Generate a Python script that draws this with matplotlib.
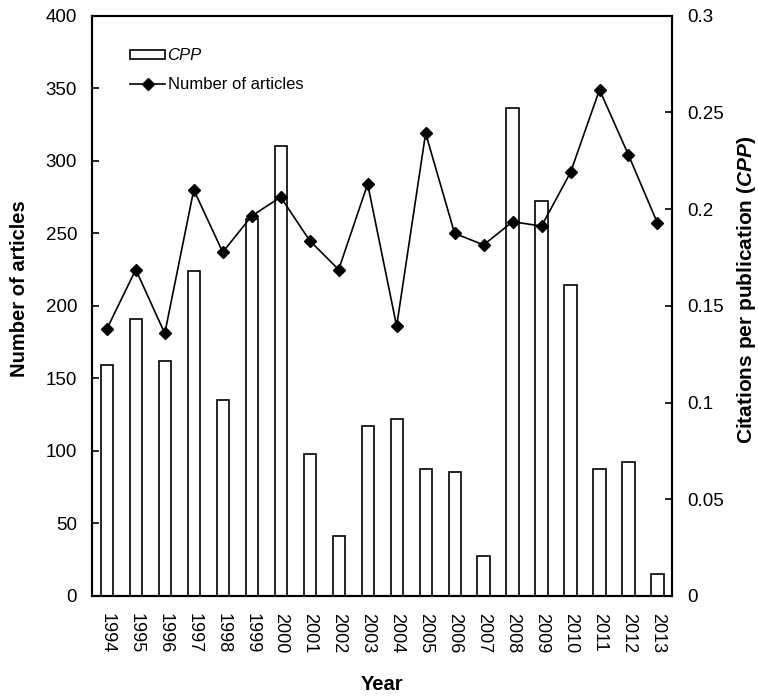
import matplotlib
matplotlib.use('Agg')
import matplotlib.pyplot as plt
from matplotlib.patches import Patch
from matplotlib.lines import Line2D
import numpy as np

plt.rcParams['font.family'] = ['Liberation Sans', 'DejaVu Sans']
plt.rcParams['mathtext.fontset'] = 'custom'
plt.rcParams['mathtext.rm'] = 'Liberation Sans'
plt.rcParams['mathtext.it'] = 'Liberation Sans:italic'
plt.rcParams['mathtext.bf'] = 'Liberation Sans:bold'
plt.rcParams['mathtext.bfit'] = 'Liberation Sans:bold:italic'

years = [str(y) for y in range(1994, 2014)]
n_articles = [184, 225, 181, 280, 237, 262, 275, 245, 225, 284,
              186, 319, 250, 242, 258, 255, 292, 349, 304, 257]
cpp = [0.1195, 0.1431, 0.1216, 0.1678, 0.1012, 0.1949, 0.2329, 0.0734, 0.0310, 0.0879,
       0.0914, 0.0659, 0.0640, 0.0205, 0.2521, 0.2040, 0.1610, 0.0659, 0.0692, 0.0115]

x = np.arange(len(years))

fig = plt.figure(figsize=(7.58, 6.96), dpi=100)
ax = fig.add_axes([0.1218, 0.1437, 0.7647, 0.8337])
ax2 = ax.twinx()

# bars on right axis, line on left axis drawn on top
ax2.bar(x, cpp, width=0.42, color='white', edgecolor='black', linewidth=1.2)
ax.plot(x, n_articles, color='black', linewidth=1.2, marker='D', markersize=6.5)
ax.set_zorder(ax2.get_zorder() + 1)
ax.patch.set_visible(False)

ax.set_xlim(-0.5, len(years) - 0.5)
ax.set_ylim(0, 400)
ax2.set_ylim(0, 0.3)
ax.set_yticks(np.arange(0, 401, 50))
ax2.set_yticks([0, 0.05, 0.1, 0.15, 0.2, 0.25, 0.3])
ax2.set_yticklabels(['0', '0.05', '0.1', '0.15', '0.2', '0.25', '0.3'])

ax.set_xticks(x)
ax.set_xticklabels(years, rotation=-90)
ax.tick_params(axis='x', length=0, pad=12, labelsize=13)
ax.tick_params(axis='y', direction='in', length=5, width=1.2, labelsize=13.5, pad=11)
ax2.tick_params(axis='y', direction='in', length=5, width=1.2, labelsize=13.5, pad=11)

for a in (ax, ax2):
    for s in a.spines.values():
        s.set_linewidth(1.5)

ax.set_xlabel('Year', fontsize=14.5, fontweight='bold', va='center')
ax.xaxis.set_label_coords(0.5, -0.152)
ax.set_ylabel('Number of articles', fontsize=14.5, fontweight='bold',
              rotation=90, va='center')
ax.yaxis.set_label_coords(-0.126, 0.529)
ax2.set_ylabel(r'Citations per publication ($\mathbfit{CPP}$)', fontsize=15,
               fontweight='bold', rotation=90, va='center')
ax2.yaxis.set_label_coords(1.129, 0.527)

handles = [Patch(facecolor='white', edgecolor='black', linewidth=1.2),
           Line2D([], [], color='black', linewidth=1.2, marker='D', markersize=6.5)]
leg = ax.legend(handles, ['CPP', 'Number of articles'], loc='upper left',
                bbox_to_anchor=(0.065, 0.944), frameon=False, fontsize=12,
                handlelength=2.1, handleheight=0.5, handletextpad=0.15,
                labelspacing=0.85, borderpad=0, borderaxespad=0)
leg.get_texts()[0].set_style('italic')

fig.savefig('out.png', dpi=100)
